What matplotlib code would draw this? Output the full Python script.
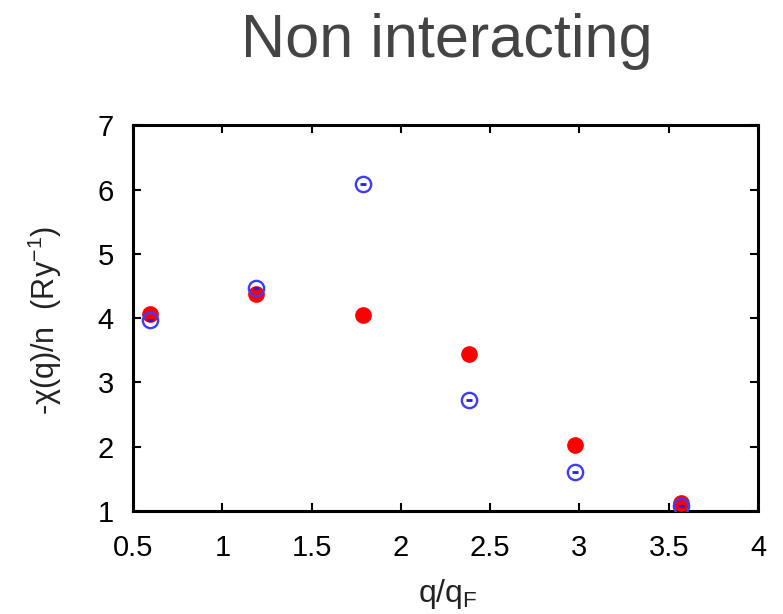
import matplotlib
matplotlib.use("Agg")
import matplotlib.pyplot as plt

plt.rcParams['font.family'] = ['Liberation Sans', 'DejaVu Sans']
plt.rcParams['mathtext.fontset'] = 'custom'
plt.rcParams['mathtext.rm'] = 'Liberation Sans'
plt.rcParams['mathtext.it'] = 'Liberation Sans'

# q/q_F sampling points
q_ratio = [0.595, 1.19, 1.785, 2.38, 2.975, 3.57]
# -chi(q)/n in Ry^-1
chi_red = [4.06, 4.37, 4.05, 3.44, 2.03, 1.12]
chi_blue = [3.97, 4.47, 6.09, 2.72, 1.60, 1.08]

x_ticks = [0.5, 1, 1.5, 2, 2.5, 3, 3.5, 4]
x_tick_labels = ['0.5', '1', '1.5', '2', '2.5', '3', '3.5', '4']
y_ticks = [1, 2, 3, 4, 5, 6, 7]
y_tick_labels = ['1', '2', '3', '4', '5', '6', '7']

fig = plt.figure(figsize=(7.83, 6.14), dpi=100)
ax = fig.add_axes([0.170, 0.168, 0.798, 0.628])

ax.plot(q_ratio, chi_red, linestyle='none', marker='o', markersize=11,
        markerfacecolor='#ff0000', markeredgecolor='#ff0000', zorder=3)
ax.plot(q_ratio, chi_blue, linestyle='none', marker='o', markersize=11,
        markerfacecolor='none', markeredgecolor='#3c3cff',
        markeredgewidth=1.7, zorder=4)
ax.plot(q_ratio, chi_blue, linestyle='none', marker='_', markersize=5,
        markeredgecolor='#2020e0', markeredgewidth=2.0, zorder=5)

ax.set_xlim(0.5, 4)
ax.set_ylim(1, 7)
ax.set_xticks(x_ticks)
ax.set_xticklabels(x_tick_labels)
ax.set_yticks(y_ticks)
ax.set_yticklabels(y_tick_labels)

ax.tick_params(direction='in', length=6, width=1.5, top=True, right=True,
               labelsize=21, colors='black')
ax.tick_params(axis='x', pad=17)
ax.tick_params(axis='y', pad=14)
for s in ax.spines.values():
    s.set_linewidth(2.2)

ax.set_xlabel(r'q/q$_{\mathregular{F}}$', fontsize=23, color='#222222')
ax.xaxis.set_label_coords(0.504, -0.172)
ax.set_ylabel(r'-χ(q)/n  (Ry$^{\mathregular{-1}}$)', fontsize=22, color='#222222')
ax.yaxis.set_label_coords(-0.11, 0.495)
fig.text(0.571, 0.907, 'Non interacting', fontsize=44, color='#444444',
         ha='center', va='baseline')

fig.savefig('out.png', dpi=100)
